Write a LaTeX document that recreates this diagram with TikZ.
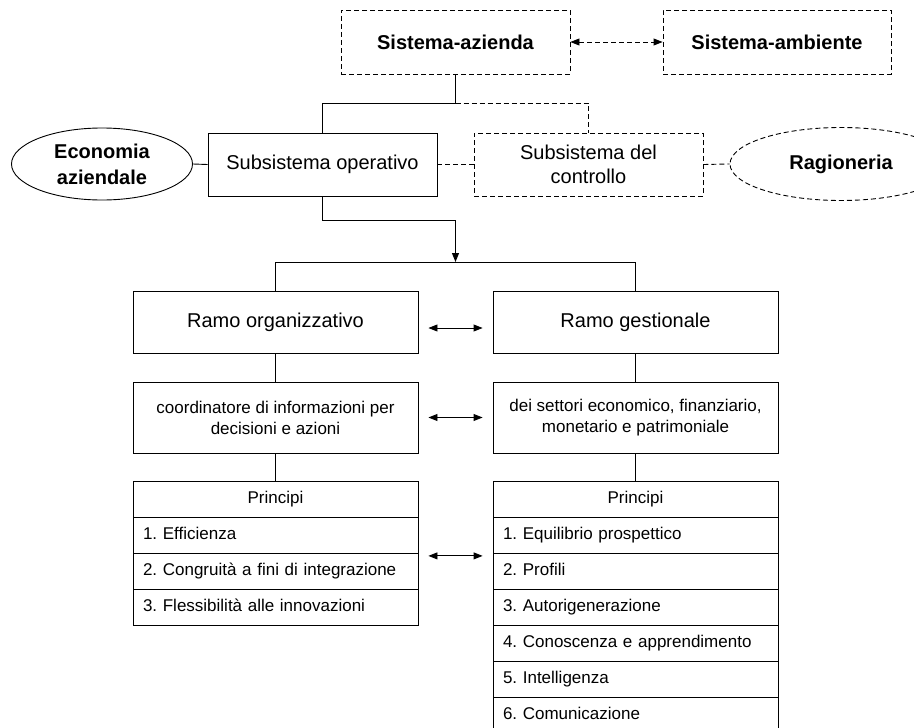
\documentclass[tikz,border=0pt]{standalone}
\usepackage{fontspec}
\setmainfont{Liberation Sans}
\usetikzlibrary{arrows.meta,shapes.geometric,calc}
\frenchspacing
\tikzset{
  lw/.style={line width=0.9pt},
  dsh/.style={dash pattern=on 5pt off 3pt},
  box/.style={draw, lw, rectangle, inner sep=2pt, align=center, font=\fontsize{20}{24}\selectfont},
  dbox/.style={box, dsh},
  bbox/.style={box, font=\fontsize{20}{26}\selectfont\bfseries},
  sbox/.style={box, font=\fontsize{17}{21}\selectfont, minimum width=285pt},
  rowbox/.style={draw, lw, rectangle, anchor=north, minimum width=285pt, minimum height=36pt,
    inner xsep=10pt, inner ysep=0pt, text width=265pt, text height=12.5pt, text depth=4pt,
    align=left, font=\fontsize{17}{20}\selectfont},
  conn/.style={lw},
  dconn/.style={lw, dsh},
  tip/.tip={Triangle[length=9pt,width=7pt]},
  arr/.style={lw, -tip},
  darr/.style={lw, tip-tip},
}
\begin{document}
\begin{tikzpicture}[x=1pt,y=1pt]
\clip (0,0) rectangle (914,-728);
\fill[white] (0,0) rectangle (914,-728);

% top level
\node[bbox, dsh, minimum width=229pt, minimum height=64pt] (az) at (455.5,-42) {Sistema-azienda};
\node[bbox, dsh, minimum width=228pt, minimum height=64pt] (amb) at (777,-42) {Sistema-ambiente};

% second level
\node[box, minimum width=229pt, minimum height=63pt] (op) at (322.5,-164.5) {Subsistema operativo};
\node[dbox, minimum width=229pt, minimum height=63pt] (ctrl) at (588.5,-164.5) {Subsistema del\\controllo};
\node[bbox, ellipse, minimum width=181pt, minimum height=72pt, inner sep=0pt] (eco) at (102,-164) {Economia\\aziendale};
\node[bbox, ellipse, dsh, minimum width=222pt, minimum height=73pt, inner sep=0pt] (rag) at (841,-164) {Ragioneria};

% junctions
\coordinate (j1) at (455.5,-103);
\coordinate (j2) at (455.5,-220);
\coordinate (bus) at (455.5,-262);
\coordinate (busL) at (275.5,-262);
\coordinate (busR) at (635.5,-262);

% branches
\node[box, minimum width=285pt, minimum height=62pt] (ramoL) at (275.5,-322) {Ramo organizzativo};
\node[box, minimum width=285pt, minimum height=62pt] (ramoR) at (635.5,-322) {Ramo gestionale};
\node[sbox, minimum height=71pt] (coordL) at (275.5,-417.5) {coordinatore di informazioni per\\decisioni e azioni};
\node[sbox, minimum height=71pt] (coordR) at (635.5,-417.5) {dei settori economico, finanziario,\\monetario e patrimoniale};

% left table
\node[rowbox, align=center] (L0) at (275.5,-481) {Principi};
\node[rowbox] (L1) at (275.5,-517) {1. Efficienza};
\node[rowbox] (L2) at (275.5,-553) {2. Congruità a fini di integrazione};
\node[rowbox] (L3) at (275.5,-589) {3. Flessibilità alle innovazioni};

% right table
\node[rowbox, align=center] (R0) at (635.5,-481) {Principi};
\node[rowbox] (R1) at (635.5,-517) {1. Equilibrio prospettico};
\node[rowbox] (R2) at (635.5,-553) {2. Profili};
\node[rowbox] (R3) at (635.5,-589) {3. Autorigenerazione};
\node[rowbox] (R4) at (635.5,-625) {4. Conoscenza e apprendimento};
\node[rowbox] (R5) at (635.5,-661) {5. Intelligenza};
\node[rowbox] (R6) at (635.5,-697) {6. Comunicazione};

% connectors top
\draw[darr, dsh] (az.east) -- (amb.west);
\draw[conn] (az.south) -- (j1) -| (op.north);
\draw[dconn] (j1) -| (ctrl.north);
\draw[conn] (eco.east) -- (op.west);
\draw[dconn] (op.east) -- (ctrl.west);
\draw[dconn] (ctrl.east) -- (rag.west);

% down to branches
\draw[conn] (op.south) |- (j2);
\draw[arr] (j2) -- (bus);
\draw[conn] (ramoL.north) -- (busL) -- (busR) -- (ramoR.north);
\draw[conn] (ramoL.south) -- (coordL.north);
\draw[conn] (ramoR.south) -- (coordR.north);
\draw[conn] (coordL.south) -- (L0.north);
\draw[conn] (coordR.south) -- (R0.north);

% horizontal double arrows
\draw[darr] ($(ramoL.east)+(10,-6)$) -- ($(ramoR.west)+(-10,-6)$);
\draw[darr] ($(coordL.east)+(10,0)$) -- ($(coordR.west)+(-10,0)$);
\draw[darr] ($(L1.south east)+(10,-2)$) -- ($(R1.south west)+(-10,-2)$);
\end{tikzpicture}
\end{document}
